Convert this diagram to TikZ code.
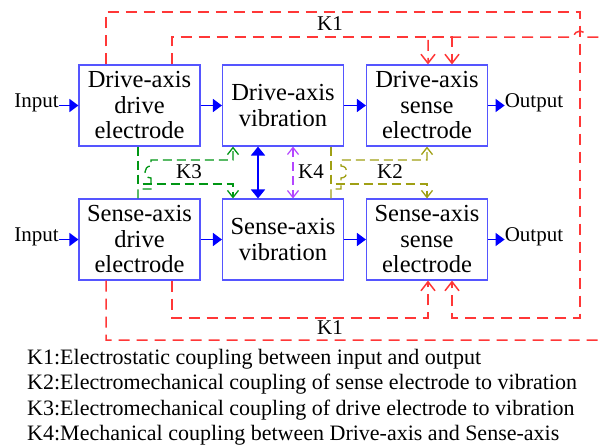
\documentclass[tikz,border=0pt]{standalone}
\usepackage{fontspec}
\setmainfont{Liberation Serif}
\usetikzlibrary{arrows.meta}
\definecolor{boxblue}{RGB}{85,85,255}
\definecolor{kred}{RGB}{255,55,55}
\definecolor{kgreen}{RGB}{0,150,20}
\definecolor{kolive}{RGB}{160,160,20}
\definecolor{kviolet}{RGB}{180,70,255}
\definecolor{flowblue}{RGB}{0,0,255}
\tikzset{
  blk/.style={draw=boxblue, line width=1.1pt, fill=white, minimum width=121pt, minimum height=81pt, inner sep=0pt, align=center, font=\fontsize{24.5}{25.5}\selectfont},
  lbl/.style={inner sep=0pt, font=\fontsize{21}{24}\selectfont},
  leg/.style={inner sep=0pt, anchor=base west, font=\fontsize{22}{24}\selectfont},
  flow/.style={draw=flowblue, line width=1.5pt, -{Triangle[length=9pt,width=13pt]}},
  kone/.style={draw=kred, line width=1.5pt, dash pattern=on 11pt off 7pt, -{Straight Barb[length=9pt,width=14pt]}},
  kthree/.style={draw=kgreen, line width=1.3pt, dash pattern=on 9pt off 5pt, -{Straight Barb[length=7pt,width=11pt]}},
  ktwo/.style={draw=kolive, line width=1.3pt, dash pattern=on 9pt off 5pt, -{Straight Barb[length=7pt,width=11pt]}},
  kfour/.style={draw=kviolet, line width=1.2pt, dash pattern=on 9pt off 5pt, {Straight Barb[length=7pt,width=11pt]}-{Straight Barb[length=7pt,width=11pt]}},
  mech/.style={draw=flowblue, line width=1.6pt, {Triangle[length=9pt,width=14pt]}-{Triangle[length=9pt,width=14pt]}}
}
\begin{document}
\begin{tikzpicture}[x=1pt,y=-1pt]
\path[use as bounding box] (0,0) rectangle (603,447);
\fill[white] (0,0) rectangle (603,447);
\clip (0,0) rectangle (603,447);

% blocks
\node[blk] (dd) at (139.5,105.5) {Drive-axis\\drive\\electrode};
\node[blk] (dv) at (283,105.5) {Drive-axis\\vibration};
\node[blk] (ds) at (427,105.5) {Drive-axis\\sense\\electrode};
\node[blk] (sd) at (139.5,239.5) {Sense-axis\\drive\\electrode};
\node[blk] (sv) at (283,239.5) {Sense-axis\\vibration};
\node[blk] (ss) at (427,239.5) {Sense-axis\\sense\\electrode};

% inputs / outputs
\node[lbl] (in1) at (36.5,103) {Input};
\node[lbl] (in2) at (36.5,237) {Input};
\node[lbl] (out1) at (534,103) {Output};
\node[lbl] (out2) at (534,237) {Output};

\draw[flow] (in1.east |- dd.west) -- (dd.west);
\draw[flow] (dd.east) -- (dv.west);
\draw[flow] (dv.east) -- (ds.west);
\draw[flow] (ds.east) -- (out1.west |- ds.east);
\draw[flow] (in2.east |- sd.west) -- (sd.west);
\draw[flow] (sd.east) -- (sv.west);
\draw[flow] (sv.east) -- (ss.west);
\draw[flow] (ss.east) -- (out2.west |- ss.east);

% K1 red couplings
\draw[kone] ([xshift=-33.5pt]dd.north) -- (106,12) -- (580,12) -- (580,318) -- (452,318) -- ([xshift=25pt]ss.south);
\draw[kone] ([xshift=32.5pt]dd.north) -- (172,37) -- (452,37) -- ([xshift=25pt]ds.north);
\draw[kone] ([xshift=-33.5pt]sd.south) -- (106,340) -- (612,340) -- (612,37) -- (586,37) .. controls (586,29) and (574,29) .. (574,37) -- (428,37) -- ([xshift=1pt]ds.north);
\draw[kone] ([xshift=32.5pt]sd.south) -- (172,318) -- (428,318) -- ([xshift=1pt]ss.south);
\node[lbl] (k1a) at (330,24) {K1};
\node[lbl] (k1b) at (330,328) {K1};

% K3 green
\draw[kthree] ([xshift=-1.5pt]dd.south) -- (138,184) -- (233,184) -- ([xshift=-50pt]sv.north);
\draw[kthree] ([xshift=-1.5pt]sd.north) -- (138,189) -- (151,189) -- (151,178) .. controls (143,178) and (143,166) .. (151,166) -- (151,160) -- (233,160) -- ([xshift=-50pt]dv.south);
\node[lbl] (k3) at (189,172) {K3};

% K2 olive
\draw[ktwo] ([xshift=48pt]dv.south) -- (331,184) -- (427,184) -- (ss.north);
\draw[ktwo] ([xshift=48pt]sv.north) -- (331,189) -- (341,189) -- (341,178) .. controls (349,178) and (349,166) .. (341,166) -- (341,160) -- (427,160) -- (ds.south);
\node[lbl] (k2) at (390,172) {K2};

% K4 mechanical
\draw[mech] ([xshift=-25pt]dv.south) -- ([xshift=-25pt]sv.north);
\draw[kfour] ([xshift=10pt]dv.south) -- ([xshift=10pt]sv.north);
\node[lbl] (k4) at (311,172) {K4};

% legend
\node[leg] (l1) at (27,364) {K1:Electrostatic coupling between input and output};
\node[leg] (l2) at (27,389.5) {K2:Electromechanical coupling of sense electrode to vibration};
\node[leg] (l3) at (27,415) {K3:Electromechanical coupling of drive electrode to vibration};
\node[leg] (l4) at (27,440.5) {K4:Mechanical coupling between Drive-axis and Sense-axis};
\end{tikzpicture}
\end{document}
